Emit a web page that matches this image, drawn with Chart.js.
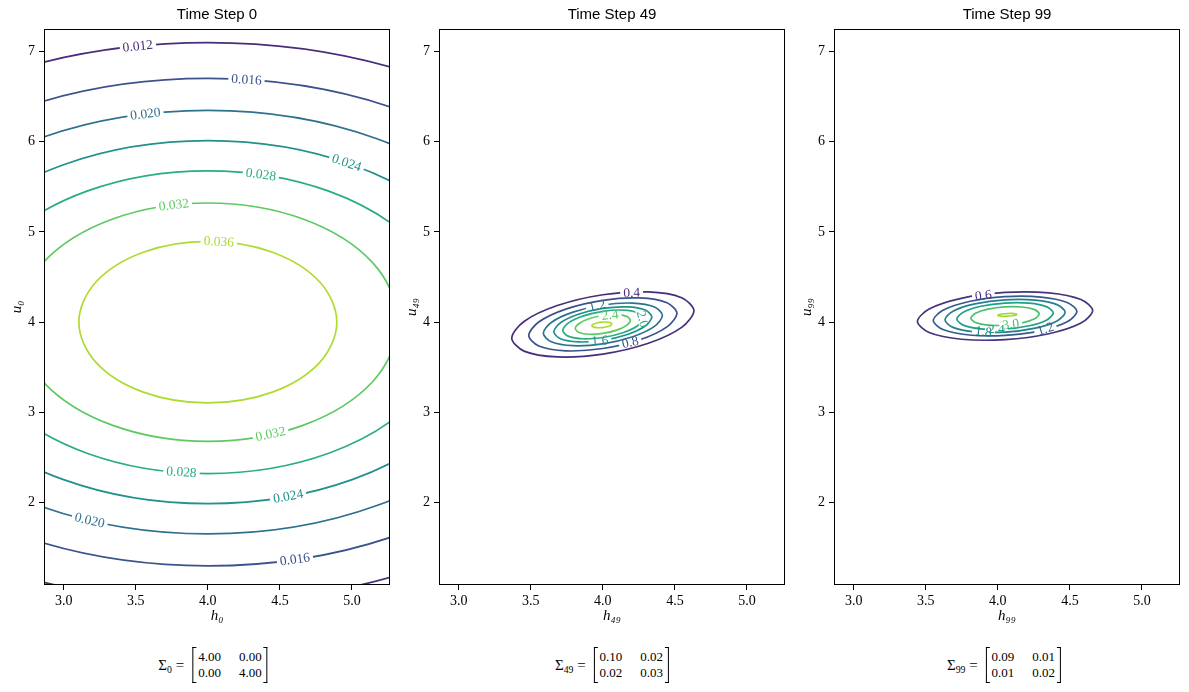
<!DOCTYPE html>
<html lang="en">
<head>
<meta charset="UTF-8">
<title>Time Step contours</title>
<script src="https://cdn.jsdelivr.net/npm/chart.js"></script>
<style>
body {
    margin: 0;
    background: #fff;
    overflow: hidden;
}

#wrap {
    position: relative;
    width: 1189px;
    height: 692px;
}

.panel {
    position: absolute;
    top: 0;
}

.sigma {
    position: absolute;
    top: 647px;
    transform: translateX(-50%);
    display: flex;
    align-items: center;
    font: 13px "Liberation Serif", "DejaVu Serif", serif;
    color: #000;
    white-space: nowrap;
}

.sigma .lhs {
    font-size: 15px;
    margin-right: 8px;
}

.sigma sub {
    font-size: 65%;
    line-height: 0;
    vertical-align: -3px;
}

.sigma table {
    border-collapse: collapse;
}

.sigma td {
    padding: 0 2px;
    line-height: 16px;
}

.sigma td + td {
    padding-left: 16px;
}

.br {
    width: 3px;
    height: 34px;
    border: 1px solid #000;
}

.br.l { border-right: 0; }
.br.r { border-left: 0; }
</style>
</head>
<body>
<div id="wrap">
    <div class="panel" style="left:0px"><canvas id="c0" width="395" height="640"></canvas></div>
    <div class="panel" style="left:395px"><canvas id="c1" width="395" height="640"></canvas></div>
    <div class="panel" style="left:790px"><canvas id="c2" width="395" height="640"></canvas></div>
    <div class="sigma" id="s0" style="left:213px"></div>
    <div class="sigma" id="s1" style="left:612px"></div>
    <div class="sigma" id="s2" style="left:1004px"></div>
</div>
<script>
// ---- data ----
const timeSteps = [0, 49, 99];
const xTicks = [3.0, 3.5, 4.0, 4.5, 5.0];
const yTicks = [2, 3, 4, 5, 6, 7];
const xLimits = [2.863, 5.264];
const yLimits = [1.088, 7.248];

const sigma0 = [[4.00, 0.00], [0.00, 4.00]];
const sigma49 = [[0.10, 0.02], [0.02, 0.03]];
const sigma99 = [[0.09, 0.01], [0.01, 0.02]];

const levels0 = [0.012, 0.016, 0.020, 0.024, 0.028, 0.032, 0.036];
const levels49 = [0.4, 0.8, 1.2, 1.6, 2.0, 2.4, 2.8];
const levels99 = [0.6, 1.2, 1.8, 2.4, 3.0, 3.6];

// contour vertices [h, u], one list per level
const contours0 = [
    [[7.097, 4], [6.682, 5.549], [5.549, 6.682], [4, 7.097], [2.451, 6.682], [1.318, 5.549], [0.903, 4], [1.318, 2.451], [2.451, 1.318], [4, 0.903], [5.549, 1.318], [6.682, 2.451]],
    [[6.700, 4], [6.338, 5.350], [5.350, 6.338], [4, 6.700], [2.650, 6.338], [1.662, 5.350], [1.300, 4], [1.662, 2.650], [2.650, 1.662], [4, 1.300], [5.350, 1.662], [6.338, 2.650]],
    [[6.346, 4], [6.032, 5.173], [5.173, 6.032], [4, 6.346], [2.827, 6.032], [1.968, 5.173], [1.654, 4], [1.968, 2.827], [2.827, 1.968], [4, 1.654], [5.173, 1.968], [6.032, 2.827]],
    [[6.011, 4], [5.742, 5.006], [5.006, 5.742], [4, 6.011], [2.994, 5.742], [2.258, 5.006], [1.989, 4], [2.258, 2.994], [2.994, 2.258], [4, 1.989], [5.006, 2.258], [5.742, 2.994]],
    [[5.677, 4], [5.452, 4.839], [4.839, 5.452], [4, 5.677], [3.161, 5.452], [2.548, 4.839], [2.323, 4], [2.548, 3.161], [3.161, 2.548], [4, 2.323], [4.839, 2.548], [5.452, 3.161]],
    [[5.320, 4], [5.143, 4.660], [4.660, 5.143], [4, 5.320], [3.340, 5.143], [2.857, 4.660], [2.680, 4], [2.857, 3.340], [3.340, 2.857], [4, 2.680], [4.660, 2.857], [5.143, 3.340]],
    [[4, 4.895], [3.552, 4.775], [3.225, 4.448], [3.105, 4], [3.225, 3.552], [3.552, 3.225], [4, 3.105], [4.448, 3.225], [4.775, 3.552], [4.895, 4], [4.775, 4.448], [4.448, 4.775]]
];

const contours49 = [
    [[4.632, 4.127], [4.547, 4.271], [4.316, 4.335], [4.000, 4.304], [3.684, 4.184], [3.453, 4.008], [3.368, 3.823], [3.453, 3.679], [3.684, 3.615], [4.000, 3.646], [4.316, 3.766], [4.547, 3.942]],
    [[4.514, 4.098], [4.445, 4.215], [4.257, 4.268], [4.000, 4.242], [3.743, 4.145], [3.555, 4.002], [3.486, 3.852], [3.555, 3.735], [3.743, 3.682], [4.000, 3.708], [4.257, 3.805], [4.445, 3.948]],
    [[4.413, 4.074], [4.358, 4.168], [4.207, 4.211], [4.000, 4.190], [3.793, 4.111], [3.642, 3.997], [3.587, 3.876], [3.642, 3.782], [3.793, 3.739], [4.000, 3.760], [4.207, 3.839], [4.358, 3.953]],
    [[4.340, 4.057], [4.294, 4.134], [4.170, 4.169], [4.000, 4.152], [3.830, 4.087], [3.706, 3.993], [3.660, 3.893], [3.706, 3.816], [3.830, 3.781], [4.000, 3.798], [4.170, 3.863], [4.294, 3.957]],
    [[4.278, 4.042], [4.241, 4.105], [4.139, 4.134], [4.000, 4.120], [3.861, 4.067], [3.759, 3.990], [3.722, 3.908], [3.759, 3.845], [3.861, 3.816], [4.000, 3.830], [4.139, 3.883], [4.241, 3.960]],
    [[4.191, 4.021], [4.165, 4.064], [4.096, 4.084], [4.000, 4.074], [3.904, 4.038], [3.835, 3.985], [3.809, 3.929], [3.835, 3.886], [3.904, 3.866], [4.000, 3.876], [4.096, 3.912], [4.165, 3.965]],
    [[4.062, 3.980], [4.053, 3.994], [4.028, 4.001], [3.993, 4.000], [3.958, 3.991], [3.933, 3.976], [3.924, 3.960], [3.933, 3.946], [3.958, 3.939], [3.993, 3.940], [4.028, 3.949], [4.053, 3.964]]
];

const contours99 = [
    [[4.658, 4.129], [4.577, 4.251], [4.354, 4.325], [4.050, 4.329], [3.746, 4.264], [3.523, 4.146], [3.442, 4.007], [3.523, 3.885], [3.746, 3.811], [4.050, 3.807], [4.354, 3.872], [4.577, 3.990]],
    [[4.548, 4.118], [4.481, 4.218], [4.299, 4.278], [4.050, 4.282], [3.801, 4.229], [3.619, 4.132], [3.552, 4.018], [3.619, 3.918], [3.801, 3.858], [4.050, 3.854], [4.299, 3.907], [4.481, 4.004]],
    [[4.467, 4.110], [4.411, 4.194], [4.259, 4.244], [4.050, 4.247], [3.841, 4.202], [3.689, 4.122], [3.633, 4.026], [3.689, 3.942], [3.841, 3.892], [4.050, 3.889], [4.259, 3.934], [4.411, 4.014]],
    [[4.385, 4.102], [4.340, 4.169], [4.218, 4.210], [4.050, 4.212], [3.882, 4.176], [3.760, 4.111], [3.715, 4.034], [3.760, 3.967], [3.882, 3.926], [4.050, 3.924], [4.218, 3.960], [4.340, 4.025]],
    [[4.287, 4.092], [4.255, 4.139], [4.169, 4.168], [4.050, 4.170], [3.931, 4.144], [3.845, 4.098], [3.813, 4.044], [3.845, 3.997], [3.931, 3.968], [4.050, 3.966], [4.169, 3.992], [4.255, 4.038]],
    [[4.132, 4.086], [4.123, 4.093], [4.099, 4.097], [4.066, 4.096], [4.033, 4.091], [4.009, 4.085], [4.000, 4.076], [4.009, 4.069], [4.033, 4.065], [4.066, 4.066], [4.099, 4.071], [4.123, 4.077]]
];

// inline contour labels: [level, h, u, rotation in degrees]
const spots0 = [
    [0.012, 3.514, 7.058, -5.7], [0.016, 4.268, 6.686, 3.6], [0.020, 3.567, 6.306, -6.7],
    [0.024, 4.963, 5.766, 18.9], [0.028, 4.368, 5.636, 8.0], [0.032, 3.764, 5.299, -6.5],
    [0.036, 4.076, 4.892, 3.1], [0.032, 4.435, 2.760, -12.3], [0.028, 3.817, 2.338, 3.9],
    [0.024, 4.557, 2.070, -10.2], [0.020, 3.180, 1.804, 13.2], [0.016, 4.604, 1.372, -8.2]
];
const spots49 = [
    [0.4, 4.20, 4.325, -2], [0.8, 4.19, 3.775, -13], [1.2, 3.96, 4.183, -13],
    [1.6, 3.98, 3.793, -4], [2.0, 4.275, 4.035, 75], [2.4, 4.05, 4.079, -6]
];
const spots99 = [
    [0.6, 3.90, 4.297, -7], [1.2, 4.33, 3.924, -18], [1.8, 3.90, 3.895, 8],
    [2.4, 3.99, 3.925, 0], [3.0, 4.09, 3.975, -8]
];

// viridis line colours
const colors0 = ['#472d7b', '#3b528b', '#2c728e', '#21918c', '#28ae80', '#5ec962', '#addc30'];
const colors49 = ['#472d7b', '#3b528b', '#2c728e', '#21918c', '#28ae80', '#5ec962', '#addc30'];
const colors99 = ['#46337e', '#365c8d', '#277f8e', '#1fa187', '#4ac16d', '#a0da39'];

// ---- drawing ----
const serif = '"Liberation Serif", "DejaVu Serif", serif';
const labelFont = '13.5px ' + serif;

const panels = [
    { step: timeSteps[0], levels: levels0, contours: contours0, colors: colors0, spots: spots0, decimals: 3, sigma: sigma0, tension: 0.35 },
    { step: timeSteps[1], levels: levels49, contours: contours49, colors: colors49, spots: spots49, decimals: 1, sigma: sigma49, tension: 0.3 },
    { step: timeSteps[2], levels: levels99, contours: contours99, colors: colors99, spots: spots99, decimals: 1, sigma: sigma99, tension: 0.3 }
];

const sub = n => String(n).split('').map(d => '₀₁₂₃₄₅₆₇₈₉'[d]).join('');

// wrap the vertex list so the spline closes smoothly
function closedLoop(pts) {
    const n = pts.length;
    return [pts[n - 1], ...pts, pts[0], pts[1]].map(p => ({ x: p[0], y: p[1] }));
}

function spotGeometry(chart, s, decimals) {
    const ctx = chart.ctx;
    const text = s[0].toFixed(decimals);
    ctx.save();
    ctx.font = labelFont;
    const w = ctx.measureText(text).width;
    ctx.restore();
    return {
        text: text,
        w: w,
        px: chart.scales.x.getPixelForValue(s[1]),
        py: chart.scales.y.getPixelForValue(s[2]),
        a: s[3] * Math.PI / 180
    };
}

// breaks each contour line under its labels, then writes the labels
const contourLabels = {
    id: 'contourLabels',
    beforeDatasetDraw(chart, args, opts) {
        const ctx = chart.ctx;
        ctx.save();
        const lvl = chart.data.datasets[args.index].level;
        const spots = opts.spots.filter(s => s[0] === lvl);
        if (!spots.length) return;
        ctx.beginPath();
        ctx.rect(0, 0, chart.width, chart.height);
        spots.forEach(s => {
            const g = spotGeometry(chart, s, opts.decimals);
            const hw = g.w / 2 + 3, hh = 5;
            const c = Math.cos(g.a), sn = Math.sin(g.a);
            const corners = [[-hw, -hh], [hw, -hh], [hw, hh], [-hw, hh]]
                .map(([u, v]) => [g.px + u * c - v * sn, g.py + u * sn + v * c]);
            ctx.moveTo(corners[0][0], corners[0][1]);
            corners.slice(1).forEach(p => ctx.lineTo(p[0], p[1]));
            ctx.closePath();
        });
        ctx.clip('evenodd');
    },
    afterDatasetDraw(chart) {
        chart.ctx.restore();
    },
    afterDatasetsDraw(chart, args, opts) {
        const ctx = chart.ctx;
        const area = chart.chartArea;
        ctx.save();
        ctx.beginPath();
        ctx.rect(area.left, area.top, area.right - area.left, area.bottom - area.top);
        ctx.clip();
        ctx.font = labelFont;
        ctx.textAlign = 'center';
        ctx.textBaseline = 'middle';
        opts.spots.forEach(s => {
            const g = spotGeometry(chart, s, opts.decimals);
            const ds = chart.data.datasets.find(d => d.level === s[0]);
            ctx.save();
            ctx.translate(g.px, g.py);
            ctx.rotate(g.a);
            ctx.fillStyle = ds.borderColor;
            ctx.fillText(g.text, 0, 0.5);
            ctx.restore();
        });
        ctx.restore();
    }
};

// full box round the axes
const frame = {
    id: 'frame',
    afterDraw(chart) {
        const a = chart.chartArea;
        const ctx = chart.ctx;
        ctx.save();
        ctx.strokeStyle = '#000';
        ctx.lineWidth = 1;
        const l = Math.round(a.left) + 0.5, t = Math.round(a.top) + 0.5;
        const r = Math.round(a.right) - 0.5, b = Math.round(a.bottom) - 0.5;
        ctx.strokeRect(l, t, r - l, b - t);
        ctx.restore();
    }
};

panels.forEach((p, i) => {
    const datasets = p.levels.map((lv, k) => {
        const pts = closedLoop(p.contours[k]);
        const last = pts.length - 1;
        return {
            level: lv,
            data: pts,
            showLine: true,
            borderColor: p.colors[k],
            borderWidth: 1.7,
            pointRadius: 0,
            tension: p.tension,
            fill: false,
            clip: 0,
            segment: {
                borderColor: ctx => (ctx.p0DataIndex === 0 || ctx.p1DataIndex === last) ? 'rgba(0,0,0,0)' : undefined
            }
        };
    });

    new Chart(document.getElementById('c' + i), {
        type: 'scatter',
        data: { datasets: datasets },
        options: {
            responsive: false,
            animation: false,
            events: [],
            layout: { padding: { left: 0, right: 5, top: 0, bottom: 0 } },
            elements: { line: { capBezierPoints: false } },
            plugins: {
                legend: { display: false },
                tooltip: { enabled: false },
                title: {
                    display: true,
                    fullSize: false,
                    text: 'Time Step ' + p.step,
                    color: '#000',
                    font: { family: '"Liberation Sans", Arial, sans-serif', size: 15, weight: 'normal' },
                    padding: { top: 6, bottom: 5 }
                },
                contourLabels: { spots: p.spots, decimals: p.decimals }
            },
            scales: {
                x: {
                    type: 'linear',
                    min: xLimits[0],
                    max: xLimits[1],
                    afterBuildTicks: s => { s.ticks = xTicks.map(v => ({ value: v })); },
                    afterFit: s => { s.height = 55; },
                    ticks: {
                        autoSkip: false,
                        maxRotation: 0,
                        padding: 3,
                        color: '#000',
                        font: { family: serif, size: 14 },
                        callback: v => v.toFixed(1)
                    },
                    grid: { drawOnChartArea: false, drawTicks: true, tickLength: 5, tickColor: '#000', tickWidth: 1 },
                    border: { display: false },
                    title: {
                        display: true,
                        text: 'h' + sub(p.step),
                        color: '#000',
                        font: { family: serif, size: 15, style: 'italic' },
                        padding: { top: 0, bottom: 15 }
                    }
                },
                y: {
                    type: 'linear',
                    min: yLimits[0],
                    max: yLimits[1],
                    afterBuildTicks: s => { s.ticks = yTicks.map(v => ({ value: v })); },
                    afterFit: s => { s.width = 44; },
                    ticks: {
                        autoSkip: false,
                        padding: 4,
                        color: '#000',
                        font: { family: serif, size: 14 },
                        callback: v => String(v)
                    },
                    grid: { drawOnChartArea: false, drawTicks: true, tickLength: 5, tickColor: '#000', tickWidth: 1 },
                    border: { display: false },
                    title: {
                        display: true,
                        text: 'u' + sub(p.step),
                        color: '#000',
                        font: { family: serif, size: 15, style: 'italic' },
                        padding: { top: 8, bottom: 0 }
                    }
                }
            }
        },
        plugins: [contourLabels, frame]
    });

    // covariance matrix under each panel
    const rows = p.sigma.map(r => '<tr>' + r.map(v => '<td>' + v.toFixed(2) + '</td>').join('') + '</tr>').join('');
    document.getElementById('s' + i).innerHTML =
        '<span class="lhs">Σ<sub>' + p.step + '</sub> =</span>' +
        '<span class="br l"></span><table>' + rows + '</table><span class="br r"></span>';
});
</script>
</body>
</html>
